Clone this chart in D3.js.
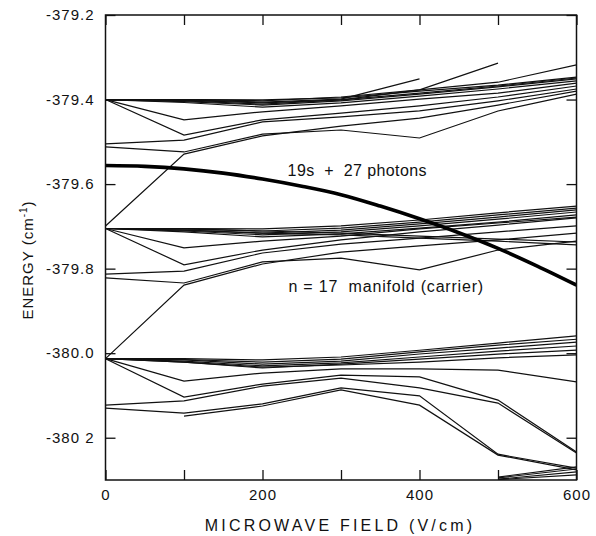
<!DOCTYPE html>
<html>
<head>
<meta charset="utf-8">
<script src="https://cdn.jsdelivr.net/npm/d3@7"></script>
<style>
  body { margin: 0; background: #fff; }
  svg text { font-family: "Liberation Sans", Arial, sans-serif; fill: #111; }
</style>
</head>
<body>
<div id="chart"></div>
<script>
// field values (V/cm) where the levels were computed
const fields = [0, 100, 200, 300, 400, 500, 600];

// upper manifold (around -379.4)
const upperLevels = [
  [-379.400, -379.400, -379.401, -379.396, -379.380, -379.366, -379.347],
  [-379.400, -379.402, -379.408, -379.401, -379.385, -379.368, -379.349],
  [-379.400, -379.405, -379.413, -379.403, -379.387, -379.370, -379.351],
  [-379.400, -379.407, -379.418, -379.408, -379.392, -379.375, -379.356],
  [-379.400, -379.400, -379.403, -379.394, -379.377, -379.359, -379.318],
  [-379.400, -379.401, -379.406, -379.399, -379.351, null, null],
  [-379.400, -379.403, -379.411, -379.401, -379.377, -379.314, null],
  [-379.400, -379.448, -379.429, -379.415, -379.399, -379.385, -379.361],
  [-379.400, -379.484, -379.448, -379.432, -379.415, -379.394, -379.368],
  [-379.505, -379.496, -379.453, -379.441, -379.427, -379.403, -379.375],
  [-379.512, -379.524, -379.482, -379.472, -379.491, -379.427, -379.387],
  [-379.699, -379.529, -379.486, -379.463, -379.444, -379.413, -379.380]
];

// n = 17 manifold (around -379.7)
const middleLevels = [
  [-379.705, -379.705, -379.706, -379.699, -379.685, -379.668, -379.652],
  [-379.705, -379.706, -379.711, -379.704, -379.690, -379.673, -379.657],
  [-379.705, -379.709, -379.716, -379.709, -379.694, -379.678, -379.661],
  [-379.705, -379.711, -379.720, -379.713, -379.699, -379.683, -379.666],
  [-379.705, -379.713, -379.725, -379.718, -379.704, -379.690, -379.673],
  [-379.705, -379.706, -379.711, -379.716, -379.723, -379.730, -379.737],
  [-379.705, -379.709, -379.716, -379.720, -379.728, -379.735, -379.744],
  [-379.705, -379.751, -379.735, -379.723, -379.706, -379.692, -379.678],
  [-379.705, -379.791, -379.756, -379.732, -379.713, -379.697, -379.680],
  [-379.813, -379.806, -379.763, -379.742, -379.728, -379.713, -379.699],
  [-379.822, -379.834, -379.784, -379.775, -379.803, -379.756, -379.735],
  [-380.013, -379.839, -379.789, -379.761, -379.746, -379.732, -379.716]
];

// lower manifold (around -380.0)
const lowerLevels = [
  [-380.013, -380.013, -380.016, -380.009, -379.993, -379.976, -379.959],
  [-380.013, -380.015, -380.021, -380.014, -379.997, -379.981, -379.967],
  [-380.013, -380.016, -380.026, -380.019, -380.002, -379.988, -379.974],
  [-380.013, -380.019, -380.030, -380.023, -380.009, -379.995, -379.983],
  [-380.013, -380.021, -380.035, -380.026, -380.014, -380.002, -379.993],
  [-380.013, -380.021, -380.033, -380.028, -380.021, -380.011, -380.004],
  [-380.013, -380.066, -380.047, -380.037, -380.037, -380.040, -380.068],
  [-380.013, -380.104, -380.073, -380.052, -380.056, -380.111, -380.234],
  [-380.123, -380.113, -380.078, -380.059, -380.082, -380.118, -380.236],
  [-380.130, -380.142, -380.120, -380.082, -380.101, -380.239, -380.272],
  [null,     -380.149, -380.125, -380.087, -380.123, -380.241, -380.276],
  [null, null, null, null, null, -380.293, -380.269],
  [null, null, null, null, null, -380.295, -380.274],
  [null, null, null, null, null, -380.298, -380.281],
  [null, null, null, null, null, -380.299, -380.288]
];

// 19s + 27 photons level
const photonFields = [0, 50, 100, 150, 200, 250, 300, 350, 400, 450, 500, 550, 600];
const photonEnergy = [-379.556, -379.558, -379.564, -379.574, -379.588, -379.605, -379.625,
                      -379.652, -379.682, -379.715, -379.752, -379.794, -379.839];

const xTicks = [0, 100, 200, 300, 400, 500, 600];
const xTickLabels = ["0", "", "200", "", "400", "", "600"];
const yTicks = [-379.2, -379.4, -379.6, -379.8, -380.0, -380.2];
const yTickLabels = ["-379.2", "-379.4", "-379.6", "-379.8", "-380.0", "-380 2"];

const W = 596, H = 536;
const margin = {top: 15, right: 19.5, bottom: 56, left: 105.5};
const w = W - margin.left - margin.right;
const h = H - margin.top - margin.bottom;

const svg = d3.select('#chart').append('svg')
  .attr('width', W)
  .attr('height', H);

const g = svg.append('g')
  .attr('transform', `translate(${margin.left},${margin.top})`);

const xScale = d3.scaleLinear().domain([0, 600]).range([0, w]);
const yScale = d3.scaleLinear().domain([-380.3, -379.2]).range([h, 0]);

g.append('clipPath').attr('id', 'plotclip')
  .append('rect').attr('width', w).attr('height', h);

const level = d3.line()
  .defined(d => d[1] !== null)
  .x(d => xScale(d[0]))
  .y(d => yScale(d[1]));

const plot = g.append('g').attr('clip-path', 'url(#plotclip)');

const allLevels = upperLevels.concat(middleLevels, lowerLevels);
plot.selectAll('path.level')
  .data(allLevels)
  .enter()
  .append('path')
  .attr('class', 'level')
  .attr('d', vals => level(vals.map((v, i) => [fields[i], v])))
  .attr('fill', 'none')
  .attr('stroke', '#111')
  .attr('stroke-width', 1.2);

const photonLine = d3.line()
  .curve(d3.curveCatmullRom)
  .x(d => xScale(d[0]))
  .y(d => yScale(d[1]));

plot.append('path')
  .attr('d', photonLine(photonFields.map((f, i) => [f, photonEnergy[i]])))
  .attr('fill', 'none')
  .attr('stroke', '#000')
  .attr('stroke-width', 3.6);

// axes with inward ticks on all four sides
const xAxis = d3.axisBottom(xScale).tickValues(xTicks).tickSize(-10).tickSizeOuter(0)
  .tickPadding(9).tickFormat((d, i) => xTickLabels[i]);
const yAxis = d3.axisLeft(yScale).tickValues(yTicks).tickSize(-10).tickSizeOuter(0)
  .tickPadding(11).tickFormat((d, i) => yTickLabels[i]);

g.append('g')
  .attr('transform', `translate(0,${h})`)
  .call(xAxis);
g.append('g').call(d3.axisTop(xScale).tickValues(xTicks).tickSize(-10).tickSizeOuter(0).tickFormat(''));
g.append('g').call(yAxis);
g.append('g')
  .attr('transform', `translate(${w},0)`)
  .call(d3.axisRight(yScale).tickValues(yTicks).tickSize(-10).tickSizeOuter(0).tickFormat(''));

g.selectAll('.domain').remove();
g.selectAll('.tick line').attr('stroke', '#111').attr('stroke-width', 1.3);
g.selectAll('.tick text')
  .style('font-size', '15px')
  .style('letter-spacing', '1px')
  .attr('fill', '#111');

g.append('rect')
  .attr('width', w)
  .attr('height', h)
  .attr('fill', 'none')
  .attr('stroke', '#111')
  .attr('stroke-width', 1.5);

// annotations
g.append('text')
  .attr('x', xScale(232))
  .attr('y', yScale(-379.58))
  .style('font-size', '16px')
  .style('letter-spacing', '0.4px')
  .attr('xml:space', 'preserve')
  .text('19s  +  27 photons');

g.append('text')
  .attr('x', xScale(233))
  .attr('y', yScale(-379.855))
  .style('font-size', '16px')
  .style('letter-spacing', '0.8px')
  .attr('xml:space', 'preserve')
  .text('n = 17  manifold (carrier)');

// axis titles
svg.append('text')
  .attr('x', 340)
  .attr('y', 531)
  .attr('text-anchor', 'middle')
  .style('font-size', '16px')
  .style('letter-spacing', '3.2px')
  .text('MICROWAVE FIELD (V/cm)');

const yTitle = svg.append('text')
  .attr('transform', 'translate(33,260) rotate(-90)')
  .attr('text-anchor', 'middle')
  .style('font-size', '15px')
  .style('letter-spacing', '1px');
yTitle.append('tspan').text('ENERGY (cm');
yTitle.append('tspan').attr('dy', -6).style('font-size', '10px').text('-1');
yTitle.append('tspan').attr('dy', 6).text(')');
</script>
</body>
</html>
